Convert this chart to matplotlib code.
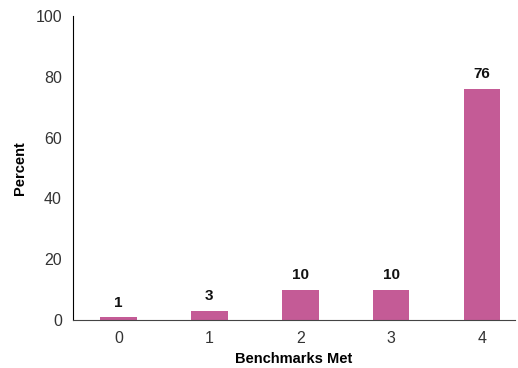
import matplotlib
matplotlib.use("Agg")
import matplotlib.pyplot as plt

categories = ["0", "1", "2", "3", "4"]
percent = [1, 3, 10, 10, 76]

plt.rcParams["font.family"] = ["Liberation Sans", "DejaVu Sans"]

fig = plt.figure(figsize=(5.18, 3.68), dpi=100)
ax = fig.add_axes([0.141, 0.130, 0.853, 0.827])

x = list(range(len(categories)))
bars = ax.bar(x, percent, width=0.4, color="#C45B96")
for xi, v in zip(x, percent):
    ax.text(xi, v + 2.5, str(v), ha="center", va="bottom",
            fontsize=11, fontweight="bold", color="#111111")

ax.set_xlim(-0.5, 4.36)
ax.set_ylim(0, 100)
ax.set_yticks([0, 20, 40, 60, 80, 100])
ax.set_xticks(x)
ax.set_xticklabels(categories)
ax.tick_params(length=0, labelsize=11.5, colors="#333333", pad=8)
ax.set_xlabel("Benchmarks Met", fontsize=10.5, fontweight="bold", labelpad=4)
ax.set_ylabel("Percent", fontsize=10.5, fontweight="bold", labelpad=6)

for s in ["top", "right"]:
    ax.spines[s].set_visible(False)
ax.spines["left"].set_color("#000000")
ax.spines["bottom"].set_color("#444444")

fig.savefig("out.png", dpi=100)
